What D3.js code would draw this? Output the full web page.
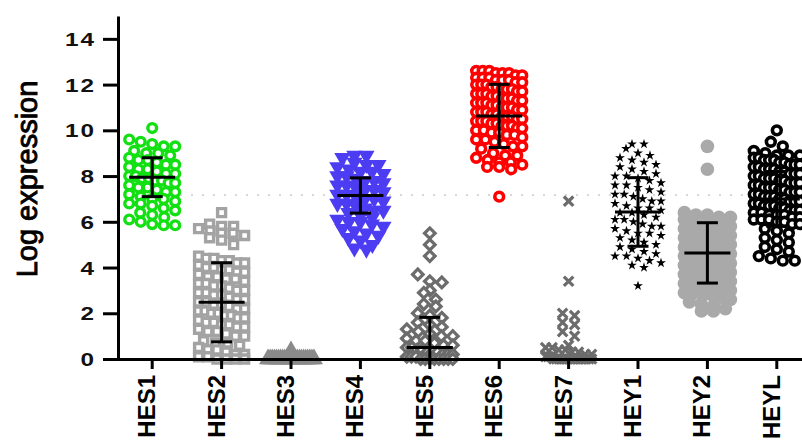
<!DOCTYPE html>
<html>
<head>
<meta charset="utf-8">
<script src="https://cdn.jsdelivr.net/npm/d3@7"></script>
<style>
  body { margin: 0; background: #fff; }
  text { font-family: "Liberation Sans", Arial, sans-serif; }
</style>
</head>
<body>
<svg width="802" height="441"></svg>
<script>
// categories
const genes = ["HES1", "HES2", "HES3", "HES4", "HES5", "HES6", "HES7", "HEY1", "HEY2", "HEYL"];

// log expression values
const hes1 = [10.1, 9.6, 9.5, 9.4, 9.3, 9.3, 9.1, 9.0, 9.0, 8.9, 8.8, 8.7, 8.7, 8.6, 8.5, 8.5, 8.4, 8.3, 8.3, 8.2,
  8.1, 8.1, 8.0, 8.0, 7.9, 7.9, 7.8, 7.8, 7.7, 7.7, 7.6, 7.5, 7.5, 7.4, 7.3, 7.3, 7.2, 7.1, 7.0, 7.0,
  6.9, 6.8, 6.8, 6.7, 6.6, 6.5, 6.4, 6.3, 6.2, 6.1, 6.0, 5.9, 5.85, 5.85];
const hes2 = [6.4, 5.9, 5.8, 5.8, 5.7, 5.6, 5.5, 5.5, 5.4, 5.3, 5.2, 5.0,
  4.5, 4.4, 4.4, 4.3, 4.3, 4.2, 4.2, 4.1, 4.0, 4.0, 3.9, 3.9, 3.8, 3.8, 3.7, 3.6, 3.6, 3.5, 3.5, 3.4,
  3.3, 3.3, 3.2, 3.2, 3.1, 3.0, 3.0, 2.9, 2.9, 2.8, 2.8, 2.7, 2.6, 2.6, 2.5, 2.5, 2.4, 2.4, 2.3, 2.2,
  2.2, 2.1, 2.1, 2.0, 2.0, 1.9, 1.9, 1.8, 1.8, 1.7, 1.6, 1.6, 1.5, 1.5, 1.4, 1.4, 1.3, 1.2, 1.2, 1.1,
  1.0, 1.0, 0.8, 0.7, 0.7, 0.6, 0.5, 0.4, 0.4, 0.3, 0.2, 0.2, 0.1, 0.1, 0.0, 0.0, 0.0, 0.0];
const hes3 = [0.35, 0, 0, 0, 0, 0, 0, 0, 0, 0, 0, 0, 0, 0, 0, 0, 0, 0, 0, 0, 0, 0, 0, 0];
const hes4 = [8.9, 8.9, 8.8, 8.6, 8.5, 8.5, 8.4, 8.3, 8.2, 8.2, 8.1, 8.0, 8.0, 7.9, 7.8, 7.8, 7.7, 7.6, 7.6,
  7.5, 7.4, 7.4, 7.3, 7.2, 7.2, 7.1, 7.0, 7.0, 6.9, 6.8, 6.8, 6.7, 6.6, 6.5, 6.5, 6.4, 6.3, 6.2, 6.1,
  6.0, 6.0, 5.9, 5.8, 5.7, 5.6, 5.5, 5.4, 5.3, 5.2, 5.0, 4.85, 4.8];
const hes5 = [5.5, 5.0, 4.5, 3.7, 3.4, 3.35, 3.0, 2.9, 2.6, 2.4, 2.3, 2.0, 1.9, 1.8, 1.6, 1.5, 1.4, 1.3,
  1.2, 1.1, 1.0, 1.0, 0.9, 0.8, 0.8, 0.7, 0.6, 0.6, 0.5, 0.5, 0.4, 0.4, 0.3, 0.3, 0.3, 0.2, 0.2, 0.2,
  0.1, 0.1, 0.1, 0, 0, 0, 0, 0, 0, 0, 0];
const hes6 = [12.6, 12.6, 12.6, 12.5, 12.5, 12.5, 12.4, 12.4, 12.3, 12.3, 12.3, 12.2, 12.2, 12.2, 12.1, 12.1,
  12.0, 12.0, 12.0, 11.9, 11.9, 11.8, 11.8, 11.8, 11.7, 11.7, 11.6, 11.6, 11.6, 11.5, 11.5, 11.4, 11.4,
  11.4, 11.3, 11.3, 11.2, 11.2, 11.2, 11.1, 11.1, 11.0, 11.0, 11.0, 10.9, 10.9, 10.8, 10.8, 10.8,
  10.7, 10.7, 10.6, 10.6, 10.6, 10.5, 10.5, 10.4, 10.4, 10.4, 10.3, 10.3, 10.2, 10.2, 10.2, 10.1,
  10.1, 10.0, 10.0, 9.9, 9.9, 9.8, 9.8, 9.7, 9.6, 9.6, 9.5, 9.4, 9.3, 9.3, 9.2, 9.0, 8.9, 8.9,
  8.8, 8.7, 8.6, 8.6, 8.5, 8.4, 8.4, 8.3, 7.1];
const hes7 = [6.9, 3.4, 2.0, 1.9, 1.6, 1.5, 1.2, 1.0, 0.6, 0.5, 0.5, 0.4, 0.4, 0.3, 0.3, 0.2, 0.2, 0.1, 0.1,
  0.1, 0, 0, 0, 0, 0, 0, 0, 0, 0, 0, 0, 0, 0, 0, 0];
const hey1 = [9.4, 9.4, 9.2, 9.0, 8.9, 8.8, 8.7, 8.6, 8.5, 8.4, 8.3, 8.2, 8.1, 8.0, 8.0, 7.9, 7.8, 7.7, 7.6,
  7.6, 7.5, 7.4, 7.3, 7.2, 7.2, 7.1, 7.0, 6.9, 6.9, 6.8, 6.7, 6.6, 6.6, 6.5, 6.4, 6.4, 6.3, 6.2, 6.1,
  6.1, 6.0, 5.9, 5.8, 5.8, 5.7, 5.6, 5.5, 5.5, 5.4, 5.3, 5.2, 5.1, 5.0, 4.9, 4.8, 4.7, 4.6, 4.5, 4.5,
  4.4, 4.3, 4.2, 4.1, 4.0, 3.2];
const hey2 = [9.3, 8.3, 6.4, 6.3, 6.3, 6.2, 6.2, 6.1, 6.1, 6.0, 6.0, 5.9, 5.9, 5.8, 5.8, 5.7, 5.7, 5.6, 5.6,
  5.5, 5.5, 5.4, 5.4, 5.3, 5.3, 5.2, 5.2, 5.1, 5.1, 5.0, 5.0, 4.9, 4.9, 4.8, 4.8, 4.7, 4.7, 4.6, 4.6,
  4.5, 4.5, 4.4, 4.4, 4.3, 4.3, 4.2, 4.2, 4.1, 4.1, 4.0, 4.0, 3.9, 3.9, 3.8, 3.8, 3.7, 3.7, 3.6, 3.6,
  3.5, 3.5, 3.4, 3.4, 3.3, 3.3, 3.2, 3.2, 3.1, 3.1, 3.0, 3.0, 2.9, 2.9, 2.8, 2.8, 2.7, 2.6, 2.5, 2.4,
  2.3, 2.2, 2.1, 2.1];
const heyl = [10.0, 9.5, 9.3, 9.1, 9.0, 8.9, 8.9, 8.9, 8.8, 8.8, 8.7, 8.7, 8.7, 8.6, 8.6, 8.5, 8.5, 8.5, 8.4,
  8.4, 8.3, 8.3, 8.3, 8.2, 8.2, 8.1, 8.1, 8.1, 8.0, 8.0, 7.9, 7.9, 7.9, 7.8, 7.8, 7.7, 7.7, 7.7, 7.6,
  7.6, 7.5, 7.5, 7.5, 7.4, 7.4, 7.3, 7.3, 7.3, 7.2, 7.2, 7.1, 7.1, 7.1, 7.0, 7.0, 6.9, 6.9, 6.9, 6.8,
  6.8, 6.7, 6.7, 6.7, 6.6, 6.6, 6.5, 6.5, 6.5, 6.4, 6.4, 6.3, 6.3, 6.3, 6.2, 6.2, 6.1, 6.1, 6.1, 6.0,
  6.0, 5.9, 5.9, 5.7, 5.6, 5.5, 5.3, 5.2, 5.1, 4.9, 4.8, 4.7, 4.5, 4.4, 4.3, 4.3];

// mean and SD bars as drawn (null = not visible)
const means = [7.95, 2.48, null, 7.15, 0.5, 10.63, null, 6.43, 4.64, 7.0];
const sds = [0.85, 1.73, null, 0.77, 1.32, 1.38, null, 1.5, 1.32, 1.2];

const yTicks = [0, 2, 4, 6, 8, 10, 12, 14];
const refLine = 7.17;

const groups = [hes1, hes2, hes3, hes4, hes5, hes6, hes7, hey1, hey2, heyl];

const svg = d3.select("svg");

const x = d3.scaleBand().domain(genes).range([117.5, 811.5]);
const y = d3.scaleLinear().domain([0, 15]).range([359, 16]);
const cx = g => x(g) + x.bandwidth() / 2;

// marker look per gene
const looks = [
  { type: "circle", r: 4.4, fill: "#fff", stroke: "#12e012", sw: 3.4 },
  { type: d3.symbolSquare, size: 64, fill: "#fff", stroke: "#a3a3a3", sw: 3.4 },
  { type: d3.symbolTriangle, size: 140, fill: "#8a8a8a", stroke: "none", sw: 0 },
  { type: d3.symbolTriangle, size: 115, fill: "#4c3cf2", stroke: "none", sw: 0, rot: 180 },
  { type: d3.symbolSquare, size: 56, fill: "#fff", stroke: "#6c6c6c", sw: 3.2, rot: 45 },
  { type: "circle", r: 4.4, fill: "#fff", stroke: "#ff0000", sw: 3.6 },
  { type: d3.symbolTimes, size: 60, fill: "none", stroke: "#6c6c6c", sw: 3.2 },
  { type: d3.symbolStar, size: 30, fill: "#000", stroke: "none", sw: 0 },
  { type: "circle", r: 6.8, fill: "#a9a9a9", stroke: "none", sw: 0 },
  { type: "circle", r: 4.4, fill: "#fff", stroke: "#000", sw: 3.6 }
];

// reference dotted line
svg.append("line")
  .attr("x1", 125).attr("x2", 802)
  .attr("y1", y(refLine)).attr("y2", y(refLine))
  .attr("stroke", "#d8d8d8")
  .attr("stroke-width", 2)
  .attr("stroke-dasharray", "2,9");

// scatter: points sharing a row are spread sideways
function swarm(values, rowPx, half) {
  const pts = values.map(v => ({ v, py: y(v) }));
  const rows = d3.group(pts, d => Math.round((y(0) - d.py) / rowPx));
  const out = [];
  for (const [, row] of rows) {
    const n = row.length;
    const dx = n > 1 ? Math.min(rowPx + 3, (2 * half) / (n - 1)) : 0;
    row.forEach((p, i) => out.push({ ...p, dx: (i - (n - 1) / 2) * dx }));
  }
  return out;
}

genes.forEach((g, i) => {
  const look = looks[i];
  const pts = swarm(groups[i], 9, 23);
  const layer = svg.append("g").attr("transform", `translate(${cx(g)},0)`);
  if (look.type === "circle") {
    layer.selectAll("circle").data(pts).join("circle")
      .attr("cx", d => d.dx).attr("cy", d => d.py)
      .attr("r", look.r)
      .attr("fill", look.fill)
      .attr("stroke", look.stroke)
      .attr("stroke-width", look.sw);
  } else {
    const sym = d3.symbol().type(look.type).size(look.size);
    layer.selectAll("path").data(pts).join("path")
      .attr("d", sym)
      .attr("transform", d => `translate(${d.dx},${d.py}) rotate(${look.rot || 0})`)
      .attr("fill", look.fill)
      .attr("stroke", look.stroke)
      .attr("stroke-width", look.sw);
  }
});

// mean +- SD bars
const bars = svg.append("g").attr("stroke", "#000").attr("stroke-width", 3);
genes.forEach((g, i) => {
  if (means[i] == null) return;
  const c = cx(g);
  const lo = Math.max(0, means[i] - sds[i]);
  const hi = means[i] + sds[i];
  bars.append("line").attr("x1", c).attr("x2", c).attr("y1", y(lo)).attr("y2", y(hi));
  bars.append("line").attr("x1", c - 23).attr("x2", c + 23).attr("y1", y(means[i])).attr("y2", y(means[i]));
  bars.append("line").attr("x1", c - 10.5).attr("x2", c + 10.5).attr("y1", y(hi)).attr("y2", y(hi));
  if (means[i] - sds[i] > 0) {
    bars.append("line").attr("x1", c - 10.5).attr("x2", c + 10.5).attr("y1", y(lo)).attr("y2", y(lo));
  }
});

// y axis
const yAxis = svg.append("g")
  .attr("transform", "translate(118,0)")
  .call(d3.axisLeft(y).tickValues(yTicks).tickSize(15).tickSizeOuter(0).tickFormat(d3.format("d")));
yAxis.select(".domain").attr("stroke-width", 3);
yAxis.selectAll(".tick line").attr("stroke-width", 3);
yAxis.selectAll(".tick text")
  .attr("x", -22 / 1.35)
  .attr("transform", "scale(1.35,1)")
  .attr("dy", "0.36em")
  .attr("font-size", 18)
  .attr("font-weight", "bold")
  .attr("letter-spacing", 1.5)
  .attr("font-family", "'Liberation Sans', Arial, sans-serif")
  .attr("fill", "#111");

// x axis
const xAxis = svg.append("g")
  .attr("transform", "translate(0,359)")
  .call(d3.axisBottom(x).tickSize(10).tickSizeOuter(0));
xAxis.select(".domain").attr("stroke-width", 3);
xAxis.selectAll(".tick line").attr("stroke-width", 3);
xAxis.selectAll(".tick text")
  .attr("transform", "rotate(-90)")
  .attr("text-anchor", "end")
  .attr("x", -16)
  .attr("y", 3)
  .attr("dy", 0)
  .attr("font-size", 24)
  .attr("font-weight", "bold")
  .attr("font-family", "'Liberation Sans', Arial, sans-serif")
  .attr("fill", "#000");

// axis title
svg.append("text")
  .attr("transform", "translate(37,179) rotate(-90)")
  .attr("text-anchor", "middle")
  .attr("font-size", 29)
  .attr("stroke", "#000")
  .attr("stroke-width", 0.9)
  .text("Log expression");
</script>
</body>
</html>
